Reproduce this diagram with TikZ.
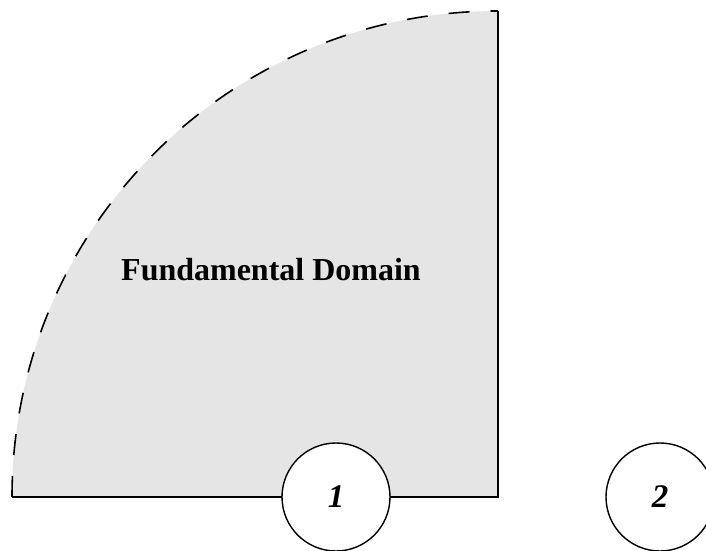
\documentclass[tikz,border=0pt]{standalone}
\usepackage{fontspec}
\setmainfont{Liberation Serif}
\tikzset{
  disc/.style={circle, draw, fill=white, minimum size=108pt, inner sep=0pt,
    font=\fontsize{33}{38}\selectfont\bfseries\itshape},
}
\begin{document}
\begin{tikzpicture}[x=1pt, y=1pt, line width=1.4pt]
    \useasboundingbox (0,0) rectangle (706,550);
    \coordinate (corner) at (498,53);
    \coordinate (left) at (12,53);
    \coordinate (top) at (498,539);
    \fill[black!10] (corner) -- (left) arc[start angle=180, end angle=90, radius=486] -- cycle;
    \draw[dash pattern=on 21pt off 21pt, line width=1.6pt] (left) arc[start angle=180, end angle=90, radius=486];
    \draw (left) -- (corner) -- (top);
    \node[font=\fontsize{32}{38}\selectfont\bfseries] (label) at (271,280) {Fundamental Domain};
    \node[disc] (one) at (336,53) {1};
    \node[disc] (two) at (660,53) {2};
\end{tikzpicture}
\end{document}
